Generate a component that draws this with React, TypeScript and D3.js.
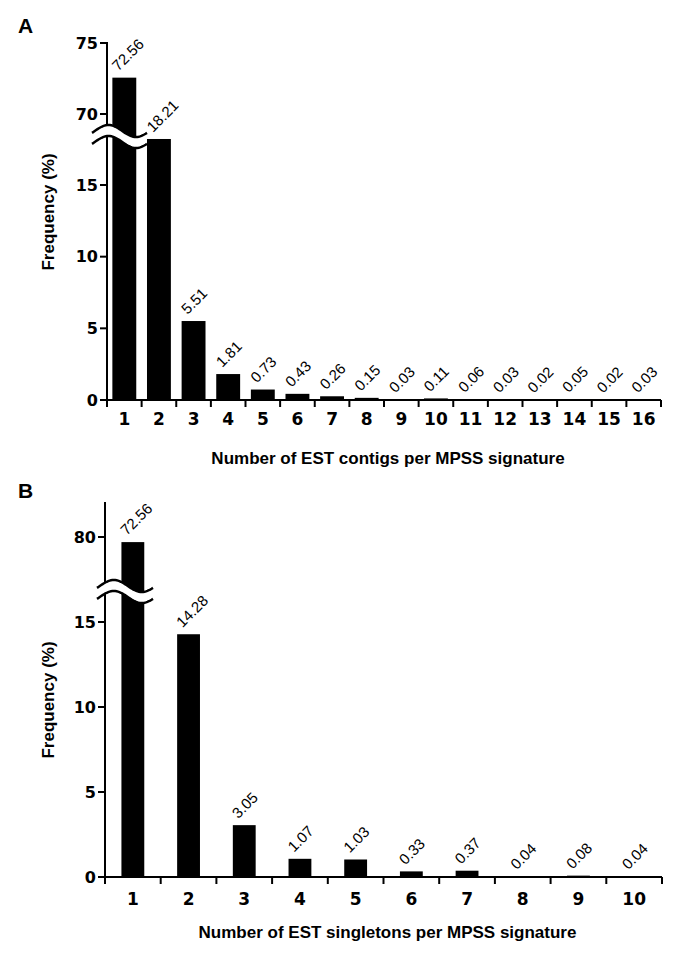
import React from "react";
import * as d3 from "d3";

const categoriesA = ["1","2","3","4","5","6","7","8","9","10","11","12","13","14","15","16"];
const valuesA = [72.56, 18.21, 5.51, 1.81, 0.73, 0.43, 0.26, 0.15, 0.03, 0.11, 0.06, 0.03, 0.02, 0.05, 0.02, 0.03];
const labelsA = ["72.56","18.21","5.51","1.81","0.73","0.43","0.26","0.15","0.03","0.11","0.06","0.03","0.02","0.05","0.02","0.03"];
const lowTicksA = [0, 5, 10, 15];
const highTicksA = [70, 75];

const categoriesB = ["1","2","3","4","5","6","7","8","9","10"];
const valuesB = [79.7, 14.28, 3.05, 1.07, 1.03, 0.33, 0.37, 0.04, 0.08, 0.04];
const labelsB = ["72.56","14.28","3.05","1.07","1.03","0.33","0.37","0.04","0.08","0.04"];
const lowTicksB = [0, 5, 10, 15];
const highTicksB = [80];

type PanelProps = {
  letter: string;
  letterY: number;
  categories: string[];
  values: number[];
  labels: string[];
  lowTicks: number[];
  highTicks: number[];
  axisX: number;
  xEnd: number;
  lowDomain: [number, number];
  lowRange: [number, number];
  highDomain: [number, number];
  highRange: [number, number];
  lowMax: number;
  axisTop: number;
  barRatio: number;
  breakX0: number;
  breakX1: number;
  breakUpper: number;
  breakLower: number;
  xLabelY: number;
  title: string;
  titleY: number;
  yTitleY: number;
};

const boldFont = "'Liberation Sans', Arial, sans-serif";
const wideFont = "'DejaVu Sans', sans-serif";

function Panel(p: PanelProps) {
  const x = d3.scaleBand<string>().domain(p.categories).range([p.axisX, p.xEnd]).paddingInner(0).paddingOuter(0);
  const yLow = d3.scaleLinear().domain(p.lowDomain).range(p.lowRange);
  const yHigh = d3.scaleLinear().domain(p.highDomain).range(p.highRange);
  const yOf = (v: number) => (v > p.lowMax ? yHigh(v) : yLow(v));
  const base = yLow(0);
  const bw = x.bandwidth() * p.barRatio;
  const amp = 6;
  const wave = (yc: number) => {
    const pts: [number, number][] = [];
    for (let i = 0; i <= 40; i++) {
      const t = i / 40;
      pts.push([p.breakX0 + t * (p.breakX1 - p.breakX0), yc - amp * Math.sin(2 * Math.PI * t - 0.1 * Math.PI)]);
    }
    return pts;
  };
  const up = wave(p.breakUpper);
  const lo = wave(p.breakLower);
  const line = d3.line();
  const fillPath = line([...up, ...lo.slice().reverse()]) + "Z";
  const boundaries = d3.range(p.categories.length + 1).map((i) => p.axisX + i * x.step());
  return (
    <g>
      <text x={18} y={p.letterY} fontFamily={boldFont} fontWeight="bold" fontSize={21}>{p.letter}</text>
      {p.values.map((v, i) => {
        const cx = (x(p.categories[i]) as number) + x.bandwidth() / 2;
        const top = yOf(v);
        return <rect key={i} x={cx - bw / 2} y={top} width={bw} height={base - top} fill="#000" />;
      })}
      {p.values.map((v, i) => {
        const cx = (x(p.categories[i]) as number) + x.bandwidth() / 2;
        const top = yOf(v);
        const tx = cx - 6;
        const ty = top - 6;
        return (
          <text key={i} x={tx} y={ty} transform={`rotate(-45 ${tx} ${ty})`} fontFamily={boldFont} fontSize={15}>
            {p.labels[i]}
          </text>
        );
      })}
      <line x1={p.axisX} x2={p.axisX} y1={p.axisTop} y2={base + 1} stroke="#000" strokeWidth={2} />
      <line x1={p.axisX - 1} x2={p.xEnd} y1={base} y2={base} stroke="#000" strokeWidth={2} />
      {boundaries.map((bx, i) => (
        <line key={i} x1={bx} x2={bx} y1={base} y2={base + 7} stroke="#000" strokeWidth={2} />
      ))}
      {p.lowTicks.map((t) => (
        <g key={"l" + t}>
          <line x1={p.axisX - 7} x2={p.axisX} y1={yLow(t)} y2={yLow(t)} stroke="#000" strokeWidth={2} />
          <text x={p.axisX - 9} y={yLow(t)} dy="0.36em" textAnchor="end" fontFamily={wideFont} fontWeight="bold" fontSize={16}>{t}</text>
        </g>
      ))}
      {p.highTicks.map((t) => (
        <g key={"h" + t}>
          <line x1={p.axisX - 7} x2={p.axisX} y1={yHigh(t)} y2={yHigh(t)} stroke="#000" strokeWidth={2} />
          <text x={p.axisX - 9} y={yHigh(t)} dy="0.36em" textAnchor="end" fontFamily={wideFont} fontWeight="bold" fontSize={16}>{t}</text>
        </g>
      ))}
      <path d={fillPath} fill="#fff" stroke="none" />
      <path d={line(up) as string} fill="none" stroke="#000" strokeWidth={2.5} />
      <path d={line(lo) as string} fill="none" stroke="#000" strokeWidth={2.5} />
      {p.categories.map((c) => (
        <text key={c} x={(x(c) as number) + x.bandwidth() / 2} y={p.xLabelY} textAnchor="middle" fontFamily={wideFont} fontWeight="bold" fontSize={17}>{c}</text>
      ))}
      <text x={(p.axisX + p.xEnd) / 2 + 4} y={p.titleY} textAnchor="middle" fontFamily={boldFont} fontWeight="bold" fontSize={17}>{p.title}</text>
      <text x={0} y={0} transform={`translate(54 ${p.yTitleY}) rotate(-90)`} textAnchor="middle" fontFamily={boldFont} fontWeight="bold" fontSize={17}>Frequency (%)</text>
    </g>
  );
}

export default function App() {
  return (
    <svg width={685} height={971} style={{ display: "block", position: "absolute", left: 0, top: 0, background: "#fff" }}>
      <rect width={685} height={971} fill="#fff" />
      <Panel
        letter="A"
        letterY={33}
        categories={categoriesA}
        values={valuesA}
        labels={labelsA}
        lowTicks={lowTicksA}
        highTicks={highTicksA}
        axisX={107}
        xEnd={661}
        lowDomain={[0, 15]}
        lowRange={[400, 185]}
        highDomain={[70, 75]}
        highRange={[114, 43]}
        lowMax={20}
        axisTop={42}
        barRatio={0.69}
        breakX0={92}
        breakX1={147}
        breakUpper={131}
        breakLower={142}
        xLabelY={425}
        title="Number of EST contigs per MPSS signature"
        titleY={464}
        yTitleY={212}
      />
      <Panel
        letter="B"
        letterY={498}
        categories={categoriesB}
        values={valuesB}
        labels={labelsB}
        lowTicks={lowTicksB}
        highTicks={highTicksB}
        axisX={105}
        xEnd={662}
        lowDomain={[0, 15]}
        lowRange={[877, 622]}
        highDomain={[75, 80]}
        highRange={[622, 537]}
        lowMax={20}
        axisTop={502}
        barRatio={0.41}
        breakX0={97}
        breakX1={153}
        breakUpper={586}
        breakLower={597}
        xLabelY={905}
        title="Number of EST singletons per MPSS signature"
        titleY={938}
        yTitleY={700}
      />
    </svg>
  );
}
